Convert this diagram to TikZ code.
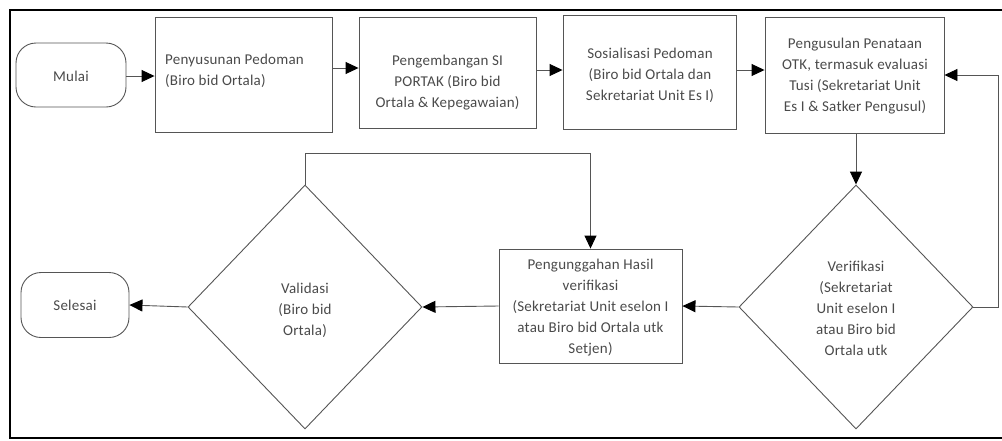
\documentclass[tikz,border=0pt]{standalone}
\usepackage{fontspec}
\setmainfont{Carlito}[LetterSpace=1.5]
\usetikzlibrary{arrows.meta,shapes.geometric}
\definecolor{ink}{HTML}{4A4A4A}
\definecolor{edge}{HTML}{555555}
\begin{document}
\begin{tikzpicture}[x=1pt,y=-1pt,
  font=\fontsize{15}{21}\selectfont,
  box/.style={draw=edge,line width=0.9pt,inner sep=0pt,minimum width=#1},
  term/.style={draw=edge,line width=0.9pt,rounded corners=20pt,inner sep=0pt},
  decision/.style={draw=edge,line width=0.9pt,diamond,inner sep=0pt,minimum width=234pt,minimum height=244pt},
  txt/.style={text=ink,align=center,inner sep=0pt},
  arr/.style={draw=edge,line width=0.9pt,-{Triangle[length=13pt,width=12pt,color=black]}}]
\useasboundingbox (0,0) rectangle (1002,440);
% outer frame (open on the right)
\draw[line width=2pt,black] (1004,10) -- (10,10) -- (10,438) -- (1004,438);

% terminals
\node[term,minimum width=110pt,minimum height=64pt] (mulai) at (71,75) {};
\node[term,minimum width=108pt,minimum height=65pt] (sel) at (75,305) {};
\node[txt] (tm) at (71,76) {Mulai};
\node[txt] (ts) at (75,305) {Selesai};

% process boxes
\node[box=177pt,minimum height=115pt] (b1) at (243.5,74.5) {};
\node[box=177pt,minimum height=111pt] (b2) at (447.5,72.5) {};
\node[box=173pt,minimum height=114pt] (b3) at (649.5,72) {};
\node[box=179pt,minimum height=116pt] (b4) at (854.5,75) {};
\node[box=183pt,minimum height=114pt] (b5) at (590.5,306) {};

\node[txt,align=left,anchor=west] (t1) at (165,71) {Penyusunan Pedoman\\(Biro bid Ortala)};
\node[txt] (t2) at (447.5,83) {Pengembangan SI\\PORTAK (Biro bid\\Ortala \& Kepegawaian)};
\node[txt] (t3) at (650,75) {Sosialisasi Pedoman\\(Biro bid Ortala dan\\Sekretariat Unit Es I)};
\node[txt] (t4) at (855,76) {Pengusulan Penataan\\OTK, termasuk evaluasi\\Tusi (Sekretariat Unit\\Es I \& Satker Pengusul)};
\node[txt] (t5) at (590.5,308) {Pengunggahan Hasil\\verifikasi\\(Sekretariat Unit eselon I\\atau Biro bid Ortala utk\\Setjen)};

% decisions
\node[decision] (ver) at (856,307) {};
\node[decision] (val) at (305,307) {};
\node[txt] (t6) at (856,308) {Verifikasi\\(Sekretariat\\Unit eselon I\\atau Biro bid\\Ortala utk};
\node[txt] (t7) at (305,310) {Validasi\\(Biro bid\\Ortala)};

% connectors
\draw[arr] (mulai.east |- 0,76) -- (b1.west |- 0,76);
\draw[arr] (b1.east |- 0,68) -- (b2.west |- 0,68);
\draw[arr] (b2.east |- 0,70) -- (b3.west |- 0,70);
\draw[arr] (b3.east |- 0,70) -- (b4.west |- 0,70);
\draw[arr] (ver.north |- b4.south) -- (ver.north);
\coordinate (fb) at (998,307);
\draw[arr] (ver.east) -- (fb) |- (b4.east);
\draw[arr] (ver.west) -- (b5.east);
\draw[arr] (b5.west) -- (val.east);
\coordinate (lp) at (b5.north |- 0,153);
\draw[arr] (val.north) |- (lp) -- (b5.north);
\draw[arr] (val.west) -- (sel.east);
\end{tikzpicture}
\end{document}
